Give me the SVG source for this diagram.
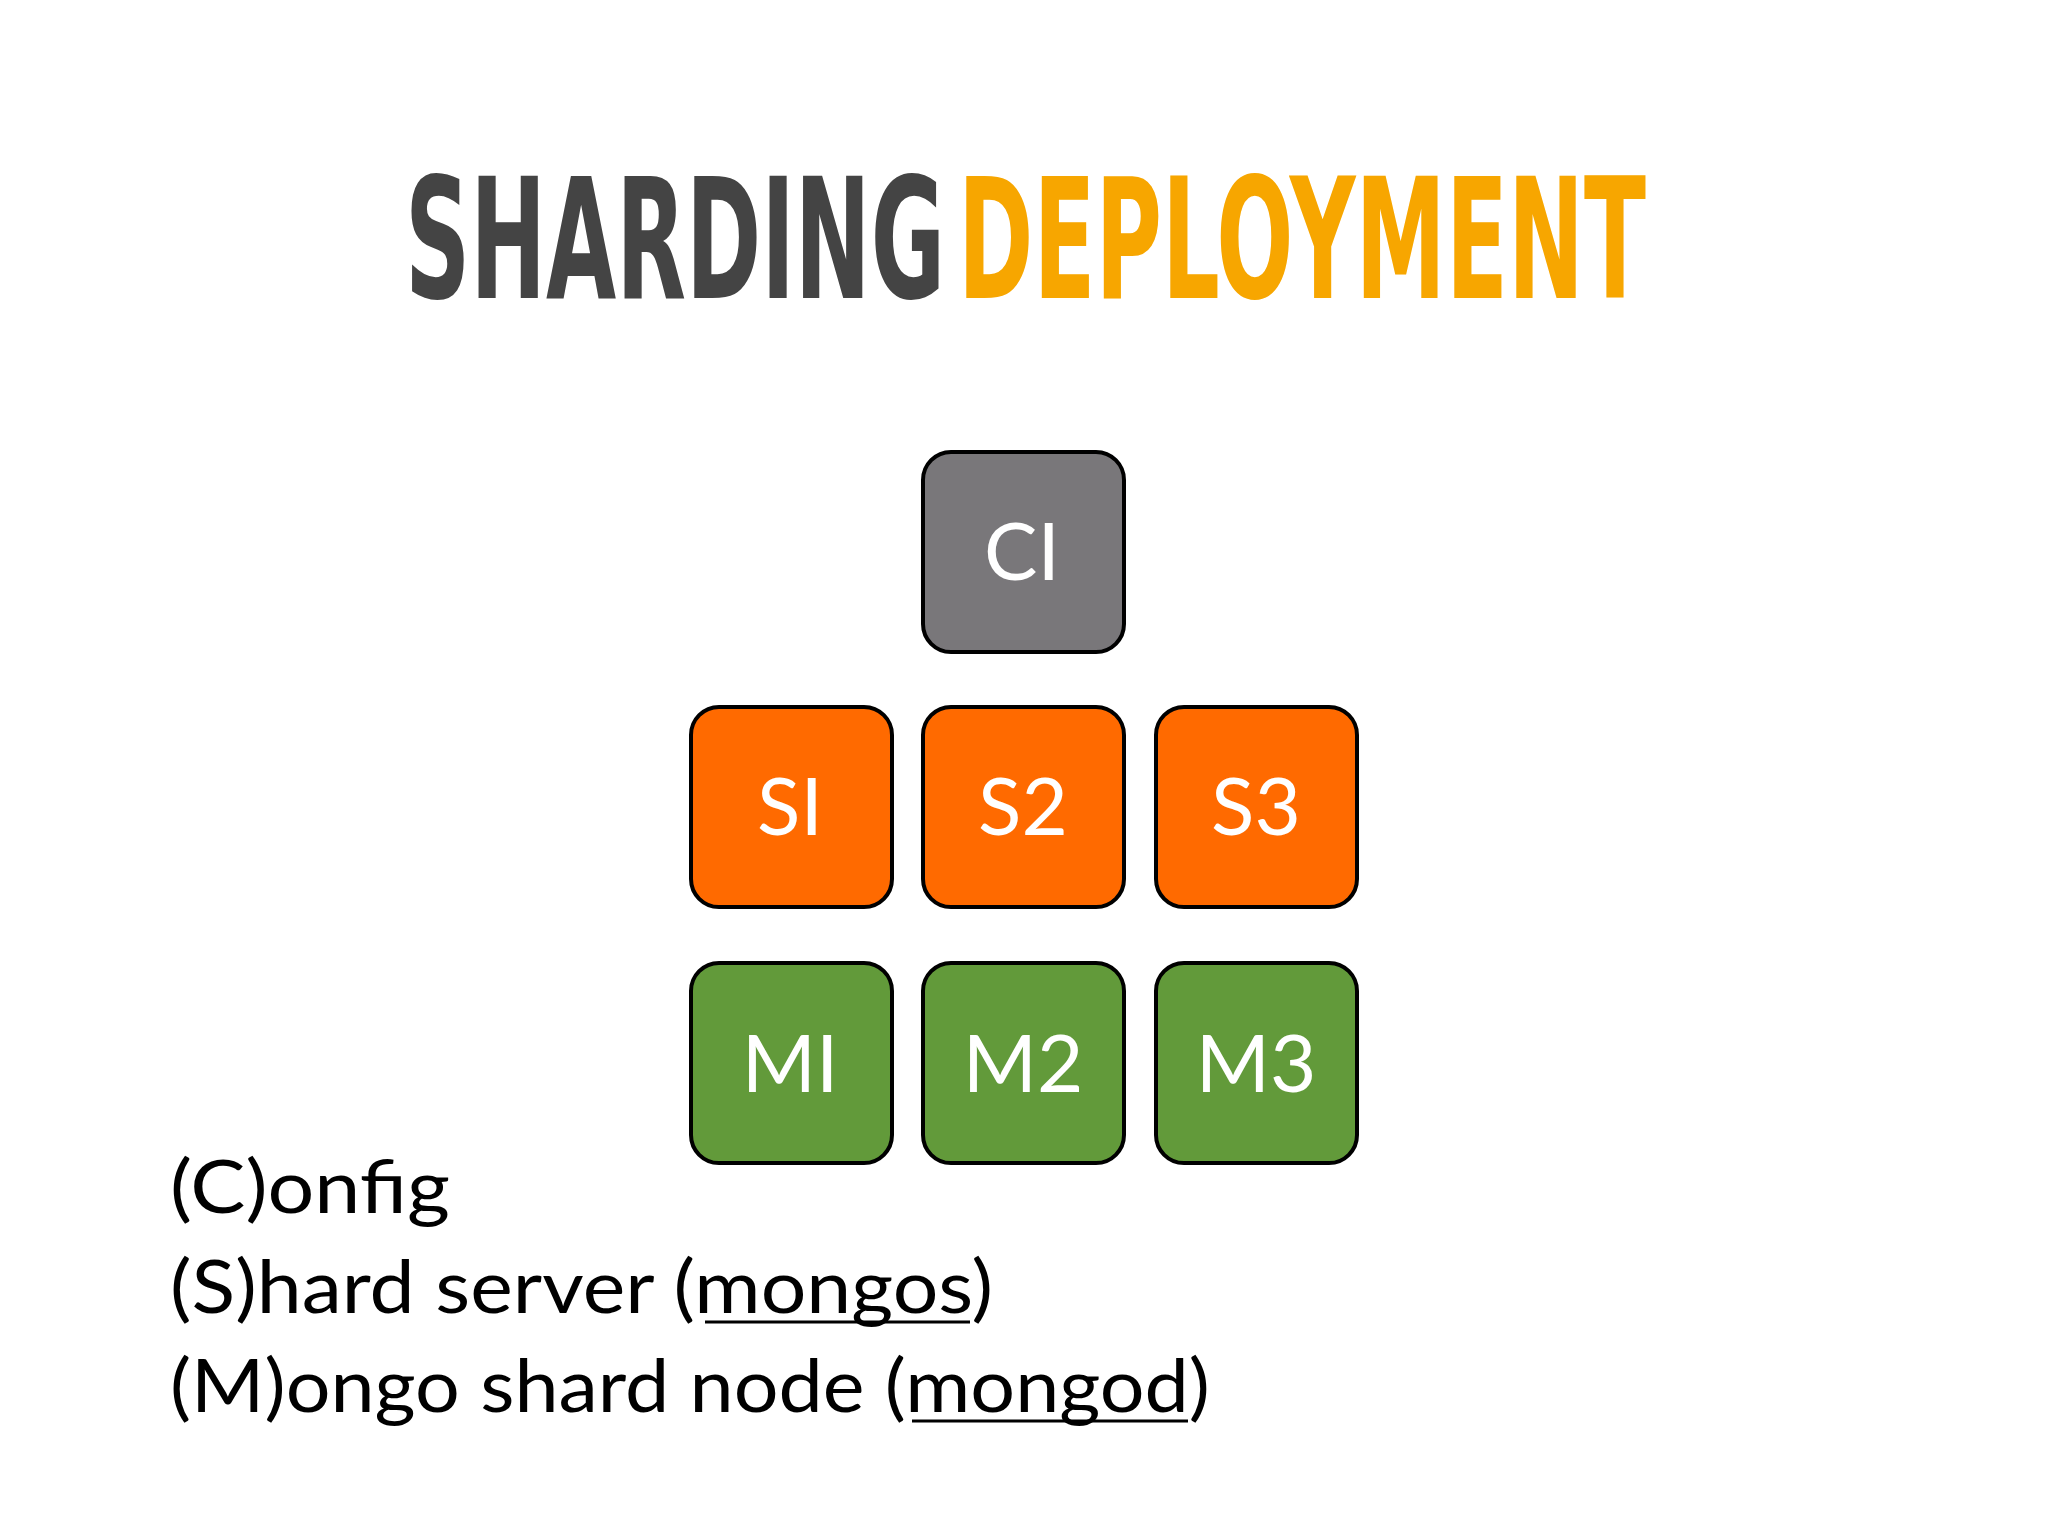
<svg xmlns="http://www.w3.org/2000/svg" width="2048" height="1536" viewBox="0 0 2048 1536">
<style>
.b{stroke:#000;stroke-width:4}
.l{font-family:Lato,"Open Sans",sans-serif;fill:#fff;font-size:80px;text-anchor:middle}
.g{font-family:Lato,"Open Sans",sans-serif;fill:#000;font-size:74px}
.t{font-family:"DejaVu Sans Condensed","Liberation Sans",sans-serif;font-size:168px;font-weight:600}
</style>
<rect width="2048" height="1536" fill="#fff"/>
<text class="t" x="405" y="298" fill="#444" textLength="540" lengthAdjust="spacingAndGlyphs">SHARDING</text>
<text class="t" x="958" y="298" fill="#f7a600" textLength="688" lengthAdjust="spacingAndGlyphs">DEPLOYMENT</text>
<g id="C1"><rect class="b" x="923" y="452" width="201" height="200" rx="28" fill="#79777a"/><text class="l" x="1022" y="580">CI</text></g>
<g id="S1"><rect class="b" x="691" y="707" width="201" height="200" rx="28" fill="#ff6a00"/><text class="l" x="790" y="835">SI</text></g>
<g id="S2"><rect class="b" x="923" y="707" width="201" height="200" rx="28" fill="#ff6a00"/><text class="l" x="1023" y="835">S2</text></g>
<g id="S3"><rect class="b" x="1156" y="707" width="201" height="200" rx="28" fill="#ff6a00"/><text class="l" x="1256" y="835">S3</text></g>
<g id="M1"><rect class="b" x="691" y="963" width="201" height="200" rx="28" fill="#629a3a"/><text class="l" x="790" y="1092">MI</text></g>
<g id="M2"><rect class="b" x="923" y="963" width="201" height="200" rx="28" fill="#629a3a"/><text class="l" x="1023" y="1092">M2</text></g>
<g id="M3"><rect class="b" x="1156" y="963" width="201" height="200" rx="28" fill="#629a3a"/><text class="l" x="1256" y="1092">M3</text></g>
<g id="connectors"/>
<text class="g" x="170" y="1213" textLength="280" lengthAdjust="spacingAndGlyphs">(C)onfig</text>
<text class="g" x="170" y="1313" textLength="823" lengthAdjust="spacingAndGlyphs">(S)hard server (mongos)</text>
<text class="g" x="170" y="1412" textLength="1040" lengthAdjust="spacingAndGlyphs">(M)ongo shard node (mongod)</text>
<line x1="705" y1="1322" x2="970" y2="1322" stroke="#000" stroke-width="3"/>
<line x1="912" y1="1421" x2="1188" y2="1421" stroke="#000" stroke-width="3"/>
</svg>
